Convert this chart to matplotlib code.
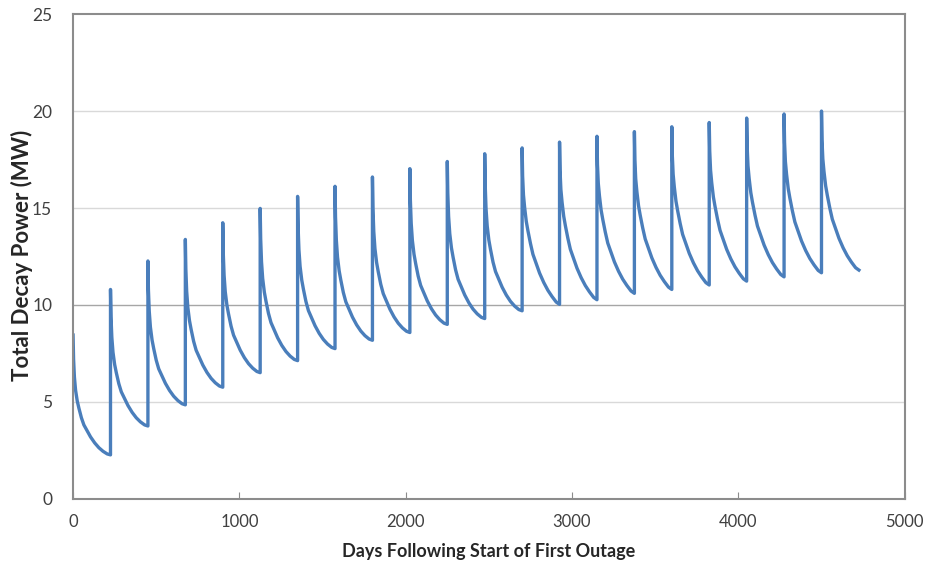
import numpy as np
import matplotlib
matplotlib.use("Agg")
import matplotlib.pyplot as plt

# start day of each cycle (outage restart)
outage_days = [0, 225, 450, 675, 900, 1125, 1350, 1575, 1800, 2025, 2250,
               2475, 2700, 2925, 3150, 3375, 3600, 3825, 4050, 4275, 4500]
# decay power right after each restart (MW)
peak_mw = [8.45, 10.8, 12.27, 13.38, 14.24, 14.98, 15.6, 16.12, 16.6, 17.03,
           17.4, 17.8, 18.1, 18.4, 18.7, 18.94, 19.19, 19.41, 19.64, 19.85,
           20.0]
# decay power at the end of each cycle (MW)
trough_mw = [2.27, 3.76, 4.85, 5.76, 6.51, 7.13, 7.75, 8.18, 8.58, 9.0,
             9.3, 9.7, 10.03, 10.27, 10.6, 10.8, 11.03, 11.23, 11.45, 11.66,
             11.8]
# shape of a decay cycle: days after restart and
# share of the peak-to-trough drop still left
decay_offset_days = [0, 3, 8, 15, 25, 35, 50, 65, 85, 105, 130, 155, 180,
                     205, 225]
decay_early = [1.0, 0.80, 0.65, 0.54, 0.45, 0.39, 0.31, 0.25, 0.20, 0.15,
               0.10, 0.06, 0.03, 0.008, 0.0]   # read near day 1800
decay_late = [1.0, 0.82, 0.70, 0.62, 0.53, 0.47, 0.39, 0.32, 0.26, 0.20,
              0.14, 0.09, 0.05, 0.015, 0.0]    # read near day 3825
late_from_cycle = 12

# build the sawtooth line from the cycles
days = []
power = []
for i, (start, top, bottom) in enumerate(zip(outage_days, peak_mw, trough_mw)):
    shape = decay_late if i >= late_from_cycle else decay_early
    for off, frac in zip(decay_offset_days, shape):
        days.append(start + off)
        power.append(bottom + (top - bottom) * frac)

plt.rcParams['font.family'] = ['Lato', 'DejaVu Sans']

fig = plt.figure(figsize=(9.25, 5.65), dpi=100)
ax = fig.add_axes([0.079, 0.117, 0.899, 0.858])

ax.plot(days, power, color='#4a7ebb', linewidth=2.4, solid_joinstyle='round')

ax.set_xlim(0, 5000)
ax.set_ylim(0, 25)
ax.set_xticks([0, 1000, 2000, 3000, 4000, 5000])
ax.set_yticks([0, 5, 10, 15, 20, 25])

# horizontal gridlines, the 10 MW one is darker in the original
for y in [5, 15, 20]:
    ax.axhline(y, color='#d9d9d9', linewidth=1.0, zorder=0)
ax.axhline(10, color='#a6a6a6', linewidth=1.0, zorder=0)

for side in ax.spines.values():
    side.set_color('#8c8c8c')
    side.set_linewidth(1.5)

ax.tick_params(axis='x', direction='in', length=5, color='#8c8c8c',
               labelsize=12, pad=11, labelcolor='#404040')
ax.tick_params(axis='y', length=0, labelsize=12.5, pad=15,
               labelcolor='#404040')

ax.set_xlabel('Days Following Start of First Outage', fontsize=13,
              fontweight='bold', color='#262626', labelpad=9)
fig.text(22 / 925, 1 - 255 / 565, 'Total Decay Power (MW)', rotation=90,
         fontsize=16, fontweight='bold', color='#262626',
         ha='center', va='center')

fig.savefig('out.png', dpi=100)
